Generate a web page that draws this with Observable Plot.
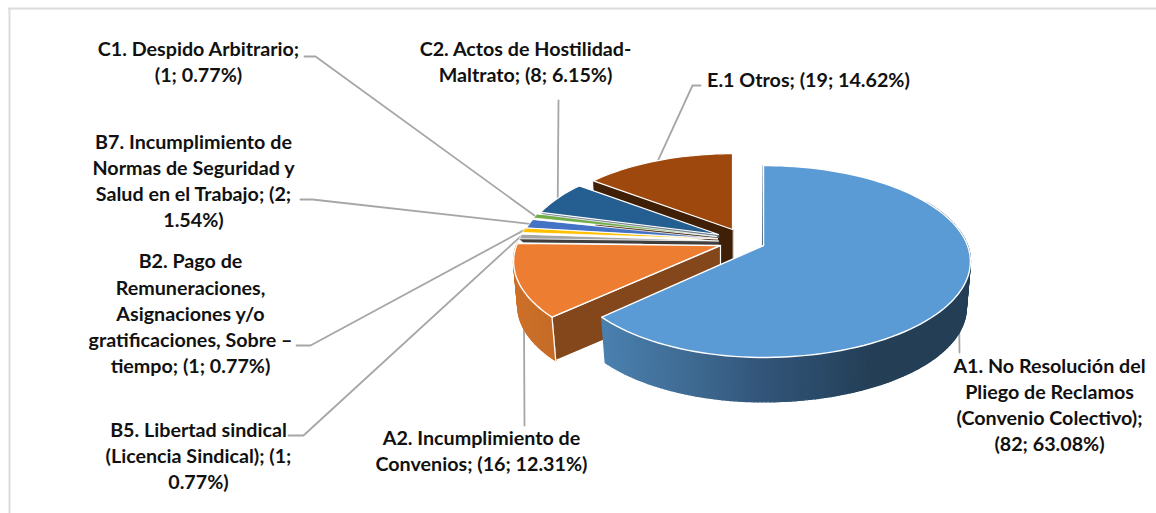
<!DOCTYPE html>
<html><head><meta charset="utf-8">
<style>html,body{margin:0;padding:0;background:#fff}svg{display:block}</style>
<script src="https://cdn.jsdelivr.net/npm/d3@7"></script>
<script src="https://cdn.jsdelivr.net/npm/@observablehq/plot@0.6"></script>
</head><body><script>
// --- chart data ---
const categories = ["A1","A2","B5","B2","B7","C1","C2","E1"];
const counts = [82,16,1,1,2,1,8,19];
const labels = [
 "A1. No Resolución del\nPliego de Reclamos\n(Convenio Colectivo);\n(82; 63.08%)",
 "A2. Incumplimiento de\nConvenios; (16; 12.31%)",
 "B5. Libertad sindical\n(Licencia Sindical); (1;\n0.77%)",
 "B2. Pago de\nRemuneraciones,\nAsignaciones y/o\ngratificaciones, Sobre –\ntiempo; (1; 0.77%)",
 "B7. Incumplimiento de\nNormas de Seguridad y\nSalud en el Trabajo; (2;\n1.54%)",
 "C1. Despido Arbitrario;\n(1; 0.77%)",
 "C2. Actos de Hostilidad-\nMaltrato; (8; 6.15%)",
 "E.1 Otros; (19; 14.62%)"
];
// --- styling / layout (per slice) ---
const topColors  = ["#5b9bd5","#ed7d31","#a5a5a5","#ffc000","#4472c4","#70ad47","#255e91","#9e480e"];
const cutColors  = [null,"#84471c","#3f3f3f",null,null,null,"#6f7f8c","#3f1f05"];
const apexX = [763,720,718,717,717,716,718,732];
const apexY = [245,245,240.5,238.5,238,236,234,229];
const radius= [1,1,.98,.97,.96,.95,.94,.94];
const leftSqueeze=[.96,1,1,1,1,1,1,1];
const depth = [47,45,3.5,0,0,0,3,45];
const anchorFrac=[.52,.36,.5,.5,.5,.5,.5,.5];
const labelX=[1049,481,198,190,193,198,525,808];
const labelY=[403,449,454,312,179,60,60,78];
const leaderEnds=[[[959,352]],[[524,425]],[[303,435],[288,435]],[[310,345],[296,345]],[[312,199],[300,199]],[[315,56],[304,56]],[[558,100]],[[692,85],[700,85]]];
// projection of the pie plane
const RX=204,RY=93.3,K=1/6,SHRINK=.02;
const total=d3.sum(counts);
const deg=[];let acc=0;counts.forEach(c=>{const s=acc/total*360;acc+=c;deg.push([s,acc/total*360])});
function proj(i,a,z=0,sc=radius[i]){
  const r=a*Math.PI/180,X=Math.sin(r)*sc,Y=-Math.cos(r)*sc,w=1-K*Y+(z?SHRINK:0);
  return {x:apexX[i]+RX*(X<0?leftSqueeze[i]:1)*X/w,y:apexY[i]+RY*Y/w+z};
}
function arc(i,a0,a1,z=0){const n=Math.max(2,Math.ceil(Math.abs(a1-a0)/2));return d3.range(n+1).map(k=>proj(i,a0+(a1-a0)*k/n,z));}
const poly=(pts,fill,stroke=fill,sw=.6)=>Plot.line(pts,{x:"x",y:"y",fill,stroke,strokeWidth:sw,curve:"linear-closed",strokeLinejoin:"round"});
const apex=(i,z=0)=>({x:apexX[i],y:apexY[i]+z});
const A1wall=d3.scaleLinear([603,650,720,760,820,870,970],["#4a80ae","#44749f","#3a6288","#33557a","#2a4a68","#243f56","#243f56"]);
const A2wall=d3.scaleLinear([515,555],["#cc7029","#c36b27"]);
const wallFill=[p=>A1wall(p),p=>A2wall(p)];

const marks=[];
// frame
marks.push(Plot.ruleY([8],{x1:8,x2:1156,stroke:"#dcdcdc",strokeWidth:2}));
marks.push(Plot.ruleX([9],{y1:8,y2:513,stroke:"#dcdcdc",strokeWidth:2}));
// leaders (behind the pie)
categories.forEach((c,i)=>{
  const a=deg[i][0]+(deg[i][1]-deg[i][0])*anchorFrac[i];
  const pts=[proj(i,a),...leaderEnds[i].map(([x,y])=>({x,y}))];
  marks.push(Plot.line(pts,{x:"x",y:"y",stroke:"#a6a6a6",strokeWidth:1.8,curve:"linear"}));
});
const backToFront=[7,6,"gap",5,4,3,2,1,0];
backToFront.forEach(i=>{
  if(i==="gap"){ // white space between the narrow wedges
    marks.push(poly([{x:716,y:241},...arc(5,285,272).map(p=>({x:p.x+2,y:p.y+4}))],"#fff"));
    return;
  }
  const [a0,a1]=deg[i],d=depth[i];
  if(d>0){
    if(cutColors[i]) marks.push(poly([apex(i),proj(i,a0),proj(i,a0,d),apex(i,d)],cutColors[i],i===1?"#fff":cutColors[i],i===1?1.2:.6));
    if(i===0){ // thin edge seen almost end-on at 0 degrees
      marks.push(Plot.line([{x:apexX[0]-1,y:apexY[0]},{x:proj(0,0.4).x-1.5,y:proj(0,0.4).y}],{x:"x",y:"y",stroke:"#33556f",strokeWidth:1.2}));
    }
    if(i===0||i===1){
      const start=i===0?60:a0, end=a1;
      const n=Math.ceil(end-start);
      for(let k=0;k<n;k++){
        const b0=start+(end-start)*k/n,b1=start+(end-start)*(k+1)/n;
        const q=[proj(i,b0),proj(i,b1),proj(i,b1,d),proj(i,b0,d)];
        const f=wallFill[i]((q[0].x+q[1].x)/2);
        marks.push(poly(q,f,f,1.4));
      }
    }
  }
  const thin=[2,3,4,5].includes(i);
  marks.push(poly([apex(i),...arc(i,a0,a1)],topColors[i],"#fff",thin?.8:(i<2?1.4:1.2)));
  if(i===1){ // bright edge between wall faces
    const p=proj(1,a0);const q=proj(1,a0,d);
    marks.push(Plot.line([p,q],{x:"x",y:"y",stroke:"#fff",strokeWidth:1.2}));
  }
});
// labels
marks.push(Plot.text(labels,{x:(d,i)=>labelX[i],y:(d,i)=>labelY[i],text:d=>d,
  fontFamily:"Lato",fontWeight:700,fontSize:19.7,lineHeight:1.33,fill:"#111",textAnchor:"middle",lineAnchor:"middle"}));

document.body.appendChild(Plot.plot({
  width:1156,height:513,margin:0,
  x:{domain:[0,1156],range:[0,1156],axis:null},
  y:{domain:[0,513],range:[0,513],axis:null},
  style:{background:"#fff"},
  marks
}));
</script></body></html>
